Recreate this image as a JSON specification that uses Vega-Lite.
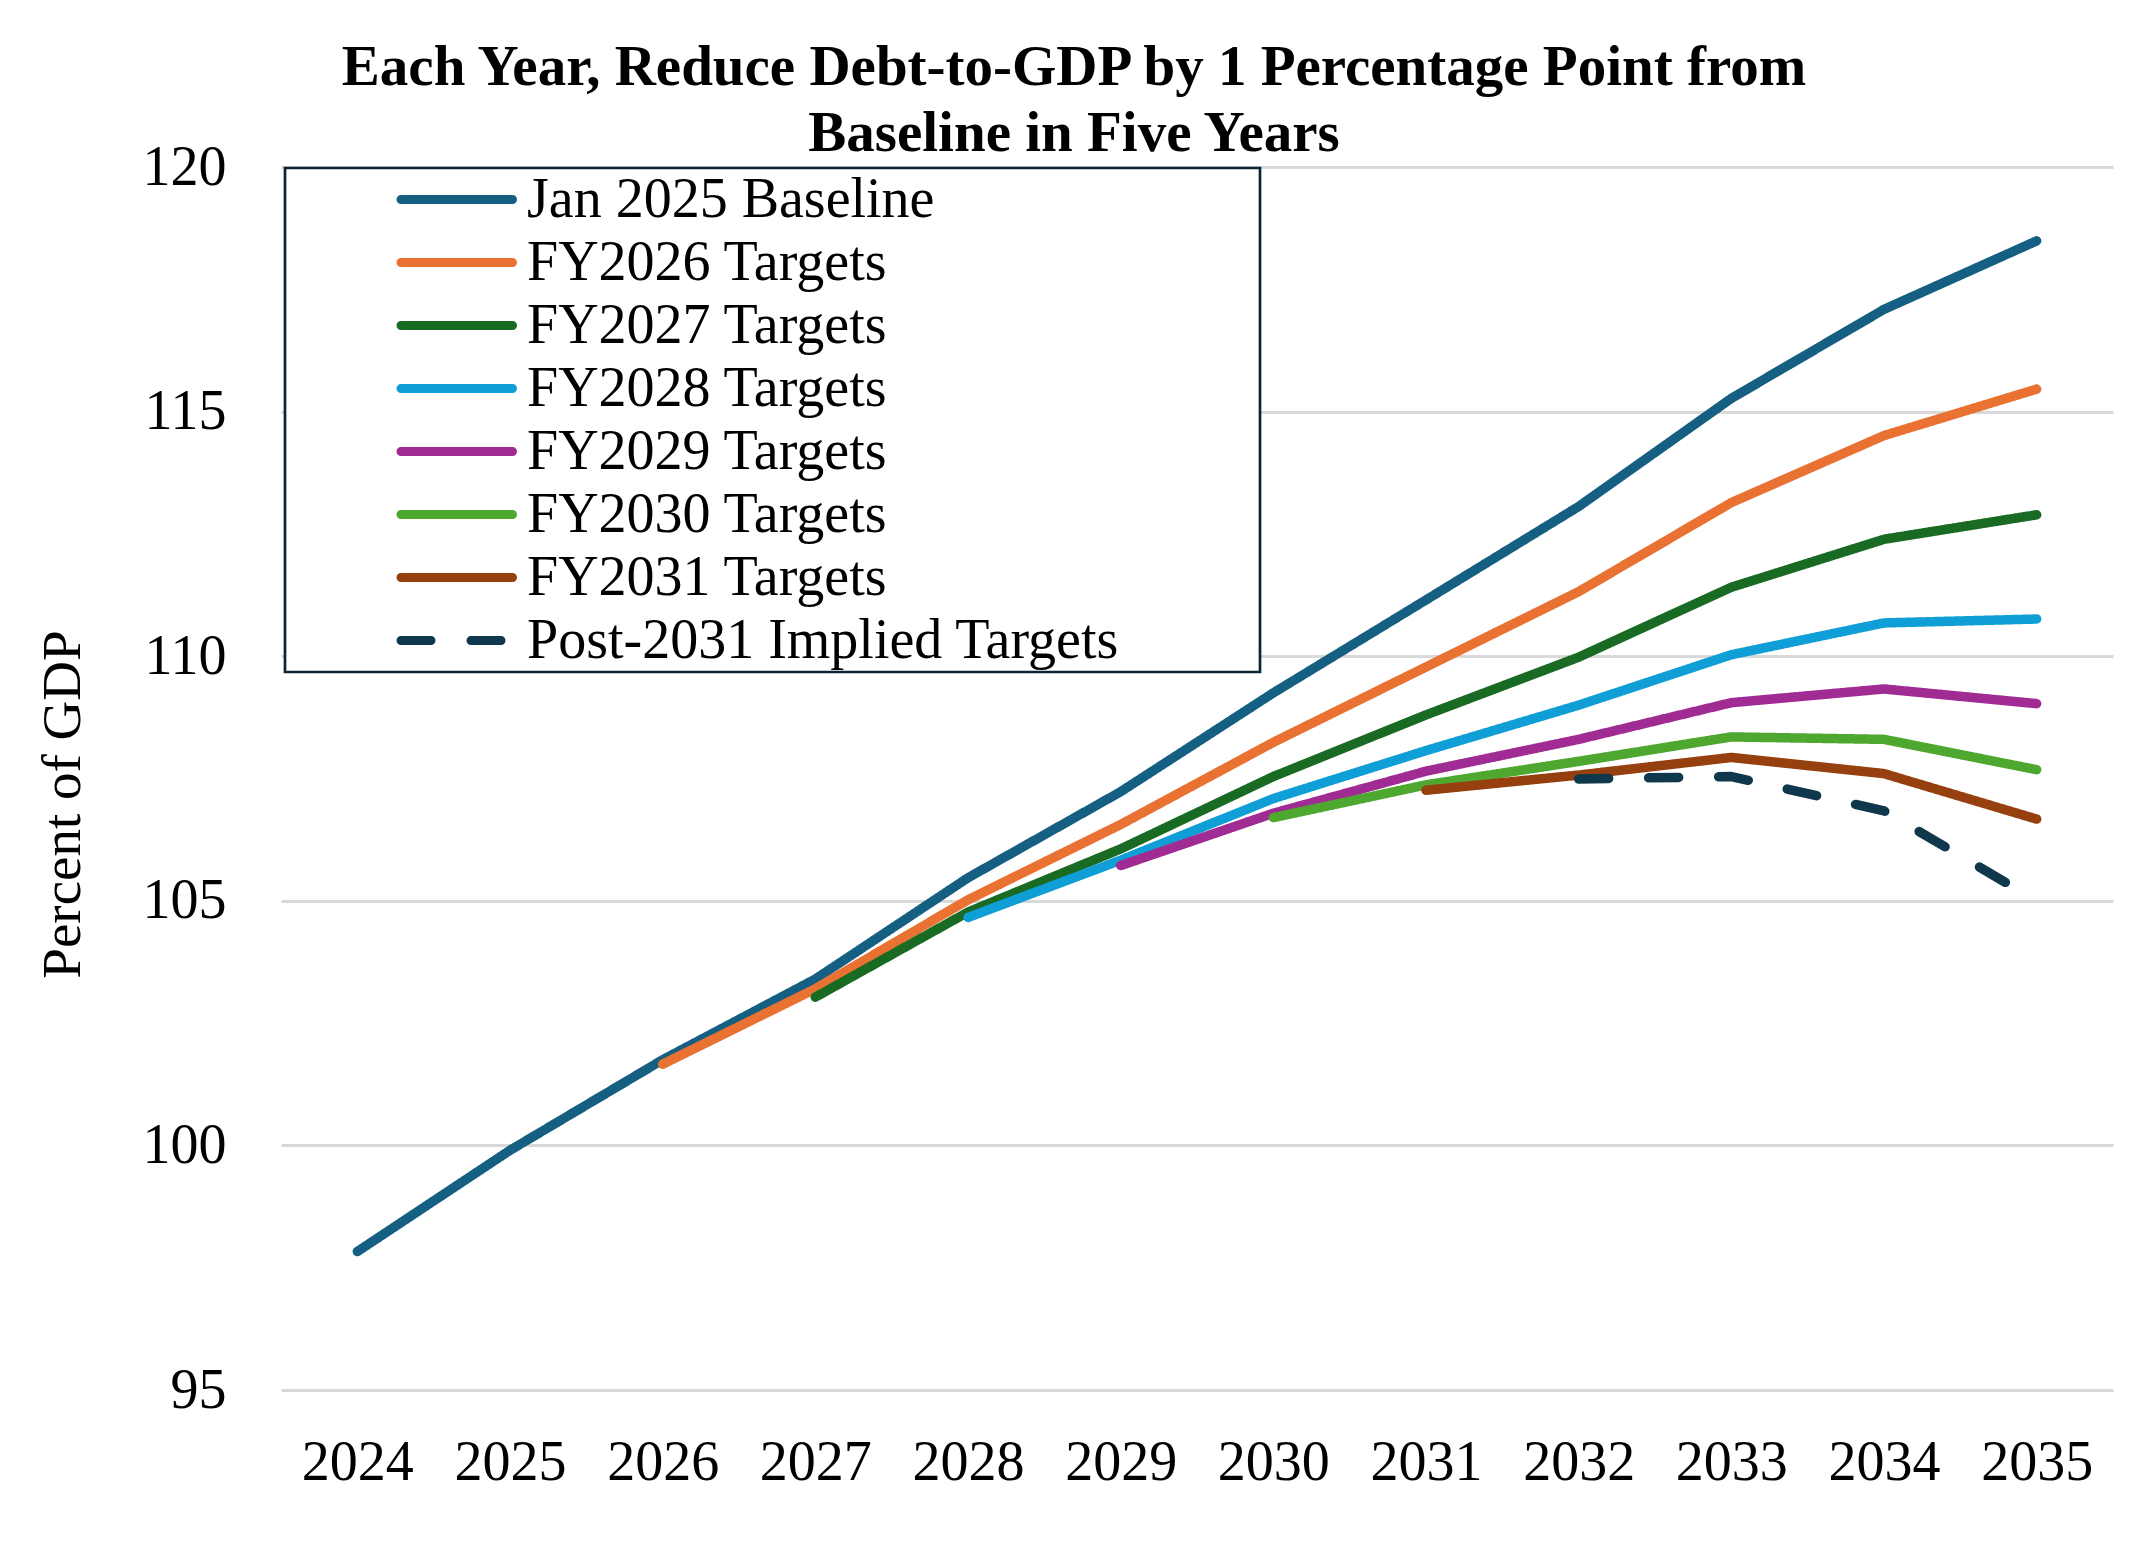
{
  "$schema": "https://vega.github.io/schema/vega-lite/v6.json",
  "width": 1832,
  "height": 1223,
  "autosize": {"type": "none"},
  "padding": {"left": 281, "top": 167, "right": 34, "bottom": 155},
  "background": "white",
  "title": {
    "text": ["Each Year, Reduce Debt-to-GDP by 1 Percentage Point from", "Baseline in Five Years"],
    "font": "Liberation Serif",
    "fontSize": 57,
    "fontWeight": "bold",
    "color": "#000000",
    "anchor": "middle",
    "dx": -123,
    "lineHeight": 66,
    "offset": -24
  },
  "config": {
    "view": {"stroke": null},
    "font": "Liberation Serif"
  },
  "data": {
    "values": [
      {"year": 2024, "series": "Jan 2025 Baseline", "value": 97.83},
      {"year": 2025, "series": "Jan 2025 Baseline", "value": 99.9},
      {"year": 2026, "series": "Jan 2025 Baseline", "value": 101.75},
      {"year": 2027, "series": "Jan 2025 Baseline", "value": 103.4},
      {"year": 2028, "series": "Jan 2025 Baseline", "value": 105.47},
      {"year": 2029, "series": "Jan 2025 Baseline", "value": 107.23},
      {"year": 2030, "series": "Jan 2025 Baseline", "value": 109.25},
      {"year": 2031, "series": "Jan 2025 Baseline", "value": 111.15},
      {"year": 2032, "series": "Jan 2025 Baseline", "value": 113.06},
      {"year": 2033, "series": "Jan 2025 Baseline", "value": 115.27},
      {"year": 2034, "series": "Jan 2025 Baseline", "value": 117.09},
      {"year": 2035, "series": "Jan 2025 Baseline", "value": 118.49},
      {"year": 2026, "series": "FY2026 Targets", "value": 101.66},
      {"year": 2027, "series": "FY2026 Targets", "value": 103.2},
      {"year": 2028, "series": "FY2026 Targets", "value": 105.02},
      {"year": 2029, "series": "FY2026 Targets", "value": 106.56},
      {"year": 2030, "series": "FY2026 Targets", "value": 108.24},
      {"year": 2031, "series": "FY2026 Targets", "value": 109.78},
      {"year": 2032, "series": "FY2026 Targets", "value": 111.32},
      {"year": 2033, "series": "FY2026 Targets", "value": 113.14},
      {"year": 2034, "series": "FY2026 Targets", "value": 114.51},
      {"year": 2035, "series": "FY2026 Targets", "value": 115.46},
      {"year": 2027, "series": "FY2027 Targets", "value": 103.03},
      {"year": 2028, "series": "FY2027 Targets", "value": 104.77},
      {"year": 2029, "series": "FY2027 Targets", "value": 106.06},
      {"year": 2030, "series": "FY2027 Targets", "value": 107.54},
      {"year": 2031, "series": "FY2027 Targets", "value": 108.8},
      {"year": 2032, "series": "FY2027 Targets", "value": 109.98},
      {"year": 2033, "series": "FY2027 Targets", "value": 111.41},
      {"year": 2034, "series": "FY2027 Targets", "value": 112.39},
      {"year": 2035, "series": "FY2027 Targets", "value": 112.89},
      {"year": 2028, "series": "FY2028 Targets", "value": 104.66},
      {"year": 2029, "series": "FY2028 Targets", "value": 105.83},
      {"year": 2030, "series": "FY2028 Targets", "value": 107.09},
      {"year": 2031, "series": "FY2028 Targets", "value": 108.07},
      {"year": 2032, "series": "FY2028 Targets", "value": 109.0},
      {"year": 2033, "series": "FY2028 Targets", "value": 110.03},
      {"year": 2034, "series": "FY2028 Targets", "value": 110.68},
      {"year": 2035, "series": "FY2028 Targets", "value": 110.76},
      {"year": 2029, "series": "FY2029 Targets", "value": 105.72},
      {"year": 2030, "series": "FY2029 Targets", "value": 106.79},
      {"year": 2031, "series": "FY2029 Targets", "value": 107.65},
      {"year": 2032, "series": "FY2029 Targets", "value": 108.3},
      {"year": 2033, "series": "FY2029 Targets", "value": 109.05},
      {"year": 2034, "series": "FY2029 Targets", "value": 109.33},
      {"year": 2035, "series": "FY2029 Targets", "value": 109.03},
      {"year": 2030, "series": "FY2030 Targets", "value": 106.7},
      {"year": 2031, "series": "FY2030 Targets", "value": 107.37},
      {"year": 2032, "series": "FY2030 Targets", "value": 107.85},
      {"year": 2033, "series": "FY2030 Targets", "value": 108.35},
      {"year": 2034, "series": "FY2030 Targets", "value": 108.3},
      {"year": 2035, "series": "FY2030 Targets", "value": 107.68},
      {"year": 2031, "series": "FY2031 Targets", "value": 107.26},
      {"year": 2032, "series": "FY2031 Targets", "value": 107.57},
      {"year": 2033, "series": "FY2031 Targets", "value": 107.93},
      {"year": 2034, "series": "FY2031 Targets", "value": 107.6},
      {"year": 2035, "series": "FY2031 Targets", "value": 106.67},
      {"year": 2032, "series": "Post-2031 Implied Targets", "value": 107.49},
      {"year": 2033, "series": "Post-2031 Implied Targets", "value": 107.54},
      {"year": 2034, "series": "Post-2031 Implied Targets", "value": 106.84},
      {"year": 2035, "series": "Post-2031 Implied Targets", "value": 105.0}
    ]
  },
  "mark": {"type": "line", "strokeWidth": 9.5, "strokeCap": "round", "strokeJoin": "round"},
  "encoding": {
    "x": {
      "field": "year",
      "type": "ordinal",
      "scale": {"type": "point", "padding": 0.5},
      "axis": {
        "title": null,
        "labelAngle": 0,
        "labelFont": "Liberation Serif",
        "labelFontSize": 56,
        "labelColor": "#000000",
        "labelPadding": 45,
        "domain": false,
        "ticks": false,
        "grid": false
      }
    },
    "y": {
      "field": "value",
      "type": "quantitative",
      "scale": {"domain": [95, 120], "nice": false, "zero": false},
      "axis": {
        "title": "Percent of GDP",
        "titleFont": "Liberation Serif",
        "titleFontSize": 55,
        "titleFontWeight": "normal",
        "titleColor": "#000000",
        "titlePadding": 51,
        "titleY": 637,
        "values": [95, 100, 105, 110, 115, 120],
        "labelFont": "Liberation Serif",
        "labelFontSize": 56,
        "labelColor": "#000000",
        "labelPadding": 55,
        "domain": false,
        "ticks": false,
        "grid": true,
        "gridColor": "#d9d9d9",
        "gridWidth": 3
      }
    },
    "color": {
      "field": "series",
      "type": "nominal",
      "scale": {
        "domain": ["Jan 2025 Baseline", "FY2026 Targets", "FY2027 Targets", "FY2028 Targets", "FY2029 Targets", "FY2030 Targets", "FY2031 Targets", "Post-2031 Implied Targets"],
        "range": ["#156082", "#e97132", "#196b24", "#0f9ed5", "#a02b93", "#4ea72e", "#96400f", "#0f384d"]
      },
      "legend": {
        "title": null,
        "orient": "none",
        "legendX": 4,
        "legendY": 1,
        "padding": 0,
        "rowPadding": 0,
        "clipHeight": 63,
        "symbolType": "M0,0H1",
        "symbolSize": 49729,
        "symbolStrokeWidth": 9,
        "labelOffset": 10,
        "labelFont": "Liberation Serif",
        "labelFontSize": 56,
        "labelColor": "#000000",
        "labelLimit": 3000,
        "labelExpr": "datum.label + '\u00a0\u00a0\u00a0\u00a0\u00a0\u00a0\u00a0\u00a0\u00a0\u00a0\u200b'",
        "strokeColor": "#0c2433",
        "fillColor": "#ffffff",
        "encode": {
          "symbols": {"update": {"strokeCap": {"value": "round"}}},
          "legend": {"update": {"strokeWidth": {"value": 2.7}}}
        }
      }
    },
    "strokeDash": {
      "field": "series",
      "type": "nominal",
      "scale": {
        "domain": ["Jan 2025 Baseline", "FY2026 Targets", "FY2027 Targets", "FY2028 Targets", "FY2029 Targets", "FY2030 Targets", "FY2031 Targets", "Post-2031 Implied Targets"],
        "range": [[1, 0], [1, 0], [1, 0], [1, 0], [1, 0], [1, 0], [1, 0], [30, 40]]
      },
      "legend": {
        "title": null,
        "orient": "none",
        "legendX": 4,
        "legendY": 1,
        "padding": 0,
        "rowPadding": 0,
        "clipHeight": 63,
        "symbolType": "M0,0H1",
        "symbolSize": 49729,
        "symbolStrokeWidth": 9,
        "labelOffset": 10,
        "labelFont": "Liberation Serif",
        "labelFontSize": 56,
        "labelColor": "#000000",
        "labelLimit": 3000,
        "labelExpr": "datum.label + '\u00a0\u00a0\u00a0\u00a0\u00a0\u00a0\u00a0\u00a0\u00a0\u00a0\u200b'",
        "strokeColor": "#0c2433",
        "fillColor": "#ffffff",
        "encode": {
          "symbols": {"update": {"strokeCap": {"value": "round"}}},
          "legend": {"update": {"strokeWidth": {"value": 2.7}}}
        }
      }
    }
  }
}
